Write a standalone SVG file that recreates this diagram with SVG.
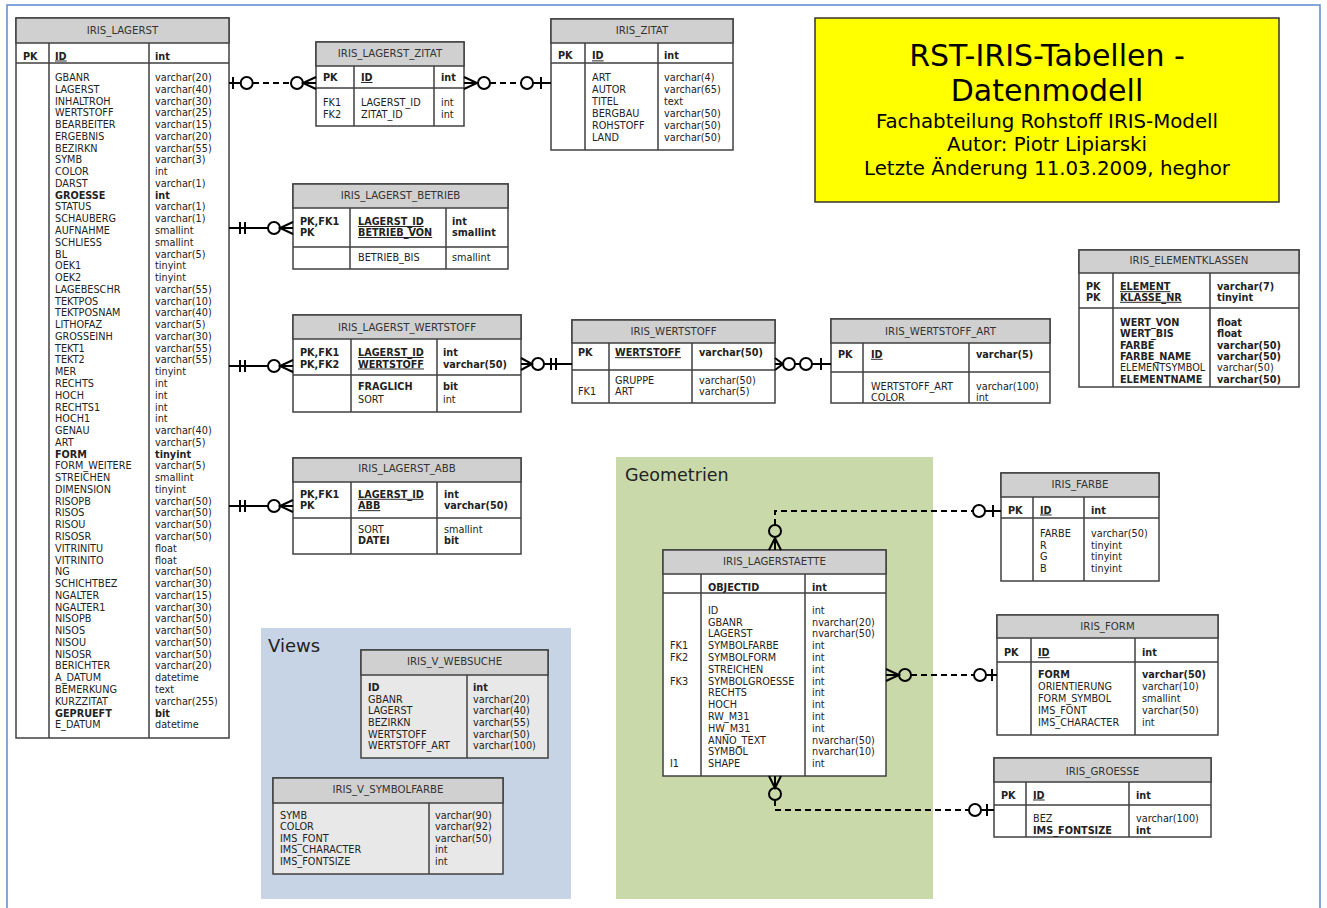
<svg xmlns="http://www.w3.org/2000/svg" width="1327" height="908" viewBox="0 0 1327 908">
<style>
text{font-family:"DejaVu Sans",Verdana,sans-serif;font-size:9.7px;fill:#222}
.tb{fill:#fff;stroke:#404040;stroke-width:1.5}
.vb{fill:#e8e8e8;stroke:#404040;stroke-width:1.5}
.hd{fill:#d0d0d0;stroke:#404040;stroke-width:1.5}
.ln{stroke:#404040;stroke-width:1.5;fill:none}
.ti{font-size:10.2px;text-anchor:middle;fill:#333}
.b{font-weight:bold}
.u{text-decoration:underline}
.cs{stroke:#000;stroke-width:2;fill:none}
.cd{stroke:#000;stroke-width:2;fill:none;stroke-dasharray:6,4}
.cc{stroke:#000;stroke-width:2;fill:none}
.big{font-size:30px;text-anchor:middle;fill:#000}
.mid{font-size:19.8px;text-anchor:middle;fill:#000}
</style>
<rect width="1327" height="908" fill="#fff"/>
<path d="M7,908 V5 H1320 V908" fill="none" stroke="#5b8bd0" stroke-width="1.5"/>

<g id="title">
<rect x="815" y="18" width="464" height="184" fill="#ffff00" stroke="#333" stroke-width="1.5"/>
<text class="big" x="1047" y="66">RST-IRIS-Tabellen -</text>
<text class="big" x="1047" y="101">Datenmodell</text>
<text class="mid" x="1047" y="128">Fachabteilung Rohstoff IRIS-Modell</text>
<text class="mid" x="1047" y="151">Autor: Piotr Lipiarski</text>
<text class="mid" x="1047" y="175">Letzte Änderung 11.03.2009, heghor</text>
</g>

<g id="views-area">
<rect x="261" y="628" width="310" height="271" fill="#c6d4e5"/>
<text x="268" y="652" style="font-size:18px;fill:#222">Views</text>
</g>
<g id="geometrien-area">
<rect x="616" y="457" width="317" height="442" fill="#c9d9a9"/>
<text x="625" y="481" style="font-size:17.5px;fill:#222">Geometrien</text>
</g>

<g id="IRIS_LAGERST">
<rect class="tb" x="16" y="18" width="213" height="720"/>
<rect class="hd" x="16" y="18" width="213" height="25"/>
<path class="ln" d="M16,63 H229 M49,43 V738 M149,43 V738"/>
<text class="ti" x="122.5" y="34">IRIS_LAGERST</text>
<text class="b" x="23" y="59.5">PK</text>
<text class="b u" x="55" y="59.5">ID</text>
<text class="b" x="155" y="59.5">int</text>
<text x="55" y="81"><tspan x="55">GBANR</tspan><tspan x="55" dy="11.77">LAGERST</tspan><tspan x="55" dy="11.77">INHALTROH</tspan><tspan x="55" dy="11.77">WERTSTOFF</tspan><tspan x="55" dy="11.77">BEARBEITER</tspan><tspan x="55" dy="11.77">ERGEBNIS</tspan><tspan x="55" dy="11.77">BEZIRKN</tspan><tspan x="55" dy="11.77">SYMB</tspan><tspan x="55" dy="11.77">COLOR</tspan><tspan x="55" dy="11.77">DARST</tspan><tspan x="55" dy="11.77" class="b">GROESSE</tspan><tspan x="55" dy="11.77">STATUS</tspan><tspan x="55" dy="11.77">SCHAUBERG</tspan><tspan x="55" dy="11.77">AUFNAHME</tspan><tspan x="55" dy="11.77">SCHLIESS</tspan><tspan x="55" dy="11.77">BL</tspan><tspan x="55" dy="11.77">OEK1</tspan><tspan x="55" dy="11.77">OEK2</tspan><tspan x="55" dy="11.77">LAGEBESCHR</tspan><tspan x="55" dy="11.77">TEKTPOS</tspan><tspan x="55" dy="11.77">TEKTPOSNAM</tspan><tspan x="55" dy="11.77">LITHOFAZ</tspan><tspan x="55" dy="11.77">GROSSEINH</tspan><tspan x="55" dy="11.77">TEKT1</tspan><tspan x="55" dy="11.77">TEKT2</tspan><tspan x="55" dy="11.77">MER</tspan><tspan x="55" dy="11.77">RECHTS</tspan><tspan x="55" dy="11.77">HOCH</tspan><tspan x="55" dy="11.77">RECHTS1</tspan><tspan x="55" dy="11.77">HOCH1</tspan><tspan x="55" dy="11.77">GENAU</tspan><tspan x="55" dy="11.77">ART</tspan><tspan x="55" dy="11.77" class="b">FORM</tspan><tspan x="55" dy="11.77">FORM_WEITERE</tspan><tspan x="55" dy="11.77">STREICHEN</tspan><tspan x="55" dy="11.77">DIMENSION</tspan><tspan x="55" dy="11.77">RISOPB</tspan><tspan x="55" dy="11.77">RISOS</tspan><tspan x="55" dy="11.77">RISOU</tspan><tspan x="55" dy="11.77">RISOSR</tspan><tspan x="55" dy="11.77">VITRINITU</tspan><tspan x="55" dy="11.77">VITRINITO</tspan><tspan x="55" dy="11.77">NG</tspan><tspan x="55" dy="11.77">SCHICHTBEZ</tspan><tspan x="55" dy="11.77">NGALTER</tspan><tspan x="55" dy="11.77">NGALTER1</tspan><tspan x="55" dy="11.77">NISOPB</tspan><tspan x="55" dy="11.77">NISOS</tspan><tspan x="55" dy="11.77">NISOU</tspan><tspan x="55" dy="11.77">NISOSR</tspan><tspan x="55" dy="11.77">BERICHTER</tspan><tspan x="55" dy="11.77">A_DATUM</tspan><tspan x="55" dy="11.77">BEMERKUNG</tspan><tspan x="55" dy="11.77">KURZZITAT</tspan><tspan x="55" dy="11.77" class="b">GEPRUEFT</tspan><tspan x="55" dy="11.77">E_DATUM</tspan></text>
<text x="155" y="81"><tspan x="155">varchar(20)</tspan><tspan x="155" dy="11.77">varchar(40)</tspan><tspan x="155" dy="11.77">varchar(30)</tspan><tspan x="155" dy="11.77">varchar(25)</tspan><tspan x="155" dy="11.77">varchar(15)</tspan><tspan x="155" dy="11.77">varchar(20)</tspan><tspan x="155" dy="11.77">varchar(55)</tspan><tspan x="155" dy="11.77">varchar(3)</tspan><tspan x="155" dy="11.77">int</tspan><tspan x="155" dy="11.77">varchar(1)</tspan><tspan x="155" dy="11.77" class="b">int</tspan><tspan x="155" dy="11.77">varchar(1)</tspan><tspan x="155" dy="11.77">varchar(1)</tspan><tspan x="155" dy="11.77">smallint</tspan><tspan x="155" dy="11.77">smallint</tspan><tspan x="155" dy="11.77">varchar(5)</tspan><tspan x="155" dy="11.77">tinyint</tspan><tspan x="155" dy="11.77">tinyint</tspan><tspan x="155" dy="11.77">varchar(55)</tspan><tspan x="155" dy="11.77">varchar(10)</tspan><tspan x="155" dy="11.77">varchar(40)</tspan><tspan x="155" dy="11.77">varchar(5)</tspan><tspan x="155" dy="11.77">varchar(30)</tspan><tspan x="155" dy="11.77">varchar(55)</tspan><tspan x="155" dy="11.77">varchar(55)</tspan><tspan x="155" dy="11.77">tinyint</tspan><tspan x="155" dy="11.77">int</tspan><tspan x="155" dy="11.77">int</tspan><tspan x="155" dy="11.77">int</tspan><tspan x="155" dy="11.77">int</tspan><tspan x="155" dy="11.77">varchar(40)</tspan><tspan x="155" dy="11.77">varchar(5)</tspan><tspan x="155" dy="11.77" class="b">tinyint</tspan><tspan x="155" dy="11.77">varchar(5)</tspan><tspan x="155" dy="11.77">smallint</tspan><tspan x="155" dy="11.77">tinyint</tspan><tspan x="155" dy="11.77">varchar(50)</tspan><tspan x="155" dy="11.77">varchar(50)</tspan><tspan x="155" dy="11.77">varchar(50)</tspan><tspan x="155" dy="11.77">varchar(50)</tspan><tspan x="155" dy="11.77">float</tspan><tspan x="155" dy="11.77">float</tspan><tspan x="155" dy="11.77">varchar(50)</tspan><tspan x="155" dy="11.77">varchar(30)</tspan><tspan x="155" dy="11.77">varchar(15)</tspan><tspan x="155" dy="11.77">varchar(30)</tspan><tspan x="155" dy="11.77">varchar(50)</tspan><tspan x="155" dy="11.77">varchar(50)</tspan><tspan x="155" dy="11.77">varchar(50)</tspan><tspan x="155" dy="11.77">varchar(50)</tspan><tspan x="155" dy="11.77">varchar(20)</tspan><tspan x="155" dy="11.77">datetime</tspan><tspan x="155" dy="11.77">text</tspan><tspan x="155" dy="11.77">varchar(255)</tspan><tspan x="155" dy="11.77" class="b">bit</tspan><tspan x="155" dy="11.77">datetime</tspan></text>
</g>

<g id="IRIS_LAGERST_ZITAT">
<rect class="tb" x="316" y="42" width="148" height="84"/>
<rect class="hd" x="316" y="42" width="148" height="24"/>
<path class="ln" d="M316,88 H464 M354,66 V126 M434,66 V126"/>
<text class="ti" x="390" y="57">IRIS_LAGERST_ZITAT</text>
<text class="b" x="323" y="81">PK</text>
<text class="b u" x="361" y="81">ID</text>
<text class="b" x="441" y="81">int</text>
<text x="323" y="106">FK1</text><text x="361" y="106">LAGERST_ID</text><text x="441" y="106">int</text>
<text x="323" y="117.7">FK2</text><text x="361" y="117.7">ZITAT_ID</text><text x="441" y="117.7">int</text>
</g>

<g id="IRIS_ZITAT">
<rect class="tb" x="551" y="19" width="182" height="131"/>
<rect class="hd" x="551" y="19" width="182" height="24"/>
<path class="ln" d="M551,63 H733 M585,43 V150 M658,43 V150"/>
<text class="ti" x="642" y="33.7">IRIS_ZITAT</text>
<text class="b" x="558" y="59.4">PK</text>
<text class="b u" x="592" y="59.4">ID</text>
<text class="b" x="664" y="59.4">int</text>
<text x="592" y="81.4"><tspan x="592">ART</tspan><tspan x="592" dy="11.9">AUTOR</tspan><tspan x="592" dy="11.9">TITEL</tspan><tspan x="592" dy="11.9">BERGBAU</tspan><tspan x="592" dy="11.9">ROHSTOFF</tspan><tspan x="592" dy="11.9">LAND</tspan></text>
<text x="664" y="81.4"><tspan x="664">varchar(4)</tspan><tspan x="664" dy="11.9">varchar(65)</tspan><tspan x="664" dy="11.9">text</tspan><tspan x="664" dy="11.9">varchar(50)</tspan><tspan x="664" dy="11.9">varchar(50)</tspan><tspan x="664" dy="11.9">varchar(50)</tspan></text>
</g>

<g id="IRIS_LAGERST_BETRIEB">
<rect class="tb" x="293" y="184" width="215" height="85"/>
<rect class="hd" x="293" y="184" width="215" height="24"/>
<path class="ln" d="M293,247 H508 M350,208 V269 M446,208 V269"/>
<text class="ti" x="400.5" y="198.7">IRIS_LAGERST_BETRIEB</text>
<text class="b" x="300" y="225">PK,FK1</text><text class="b u" x="358" y="225">LAGERST_ID</text><text class="b" x="452" y="225">int</text>
<text class="b" x="300" y="236">PK</text><text class="b u" x="358" y="236">BETRIEB_VON</text><text class="b" x="452" y="236">smallint</text>
<text x="358" y="261">BETRIEB_BIS</text><text x="452" y="261">smallint</text>
</g>

<g id="IRIS_LAGERST_WERTSTOFF">
<rect class="tb" x="293" y="315" width="228" height="97"/>
<rect class="hd" x="293" y="315" width="228" height="24"/>
<path class="ln" d="M293,375 H521 M351,339 V412 M437,339 V412"/>
<text class="ti" x="407" y="331">IRIS_LAGERST_WERTSTOFF</text>
<text class="b" x="300" y="356">PK,FK1</text><text class="b u" x="358" y="356">LAGERST_ID</text><text class="b" x="443" y="356">int</text>
<text class="b" x="300" y="367.5">PK,FK2</text><text class="b u" x="358" y="367.5">WERTSTOFF</text><text class="b" x="443" y="367.5">varchar(50)</text>
<text class="b" x="358" y="390.2">FRAGLICH</text><text class="b" x="443" y="390.2">bit</text>
<text x="358" y="402.8">SORT</text><text x="443" y="402.8">int</text>
</g>

<g id="IRIS_WERTSTOFF">
<rect class="tb" x="572" y="320" width="203" height="83"/>
<rect class="hd" x="572" y="320" width="203" height="23"/>
<path class="ln" d="M572,370 H775 M609,343 V403 M692,343 V403"/>
<text class="ti" x="673.5" y="335.4">IRIS_WERTSTOFF</text>
<text class="b" x="578" y="356.2">PK</text><text class="b u" x="615" y="356.2">WERTSTOFF</text><text class="b" x="699" y="356.2">varchar(50)</text>
<text x="615" y="384.2">GRUPPE</text><text x="699" y="384.2">varchar(50)</text>
<text x="578" y="395.2">FK1</text><text x="615" y="395.2">ART</text><text x="699" y="395.2">varchar(5)</text>
</g>

<g id="IRIS_WERTSTOFF_ART">
<rect class="tb" x="831" y="319" width="219" height="84"/>
<rect class="hd" x="831" y="319" width="219" height="24"/>
<path class="ln" d="M831,372 H1050 M863,343 V403 M969,343 V403"/>
<text class="ti" x="940.5" y="335.4">IRIS_WERTSTOFF_ART</text>
<text class="b" x="838" y="357.8">PK</text><text class="b u" x="871" y="357.8">ID</text><text class="b" x="976" y="357.8">varchar(5)</text>
<text x="871" y="389.5">WERTSTOFF_ART</text><text x="976" y="389.5">varchar(100)</text>
<text x="871" y="400.8">COLOR</text><text x="976" y="400.8">int</text>
</g>

<g id="IRIS_ELEMENTKLASSEN">
<rect class="tb" x="1079" y="250" width="220" height="137"/>
<rect class="hd" x="1079" y="250" width="220" height="23"/>
<path class="ln" d="M1079,308 H1299 M1113,273 V387 M1210,273 V387"/>
<text class="ti" x="1189" y="263.7">IRIS_ELEMENTKLASSEN</text>
<text class="b" x="1086" y="290.2">PK</text><text class="b u" x="1120" y="290.2">ELEMENT</text><text class="b" x="1217" y="290.2">varchar(7)</text>
<text class="b" x="1086" y="300.8">PK</text><text class="b u" x="1120" y="300.8">KLASSE_NR</text><text class="b" x="1217" y="300.8">tinyint</text>
<text x="1120" y="325.8"><tspan x="1120" class="b">WERT_VON</tspan><tspan x="1120" dy="11.4" class="b">WERT_BIS</tspan><tspan x="1120" dy="11.4" class="b">FARBE</tspan><tspan x="1120" dy="11.4" class="b">FARBE_NAME</tspan><tspan x="1120" dy="11.4">ELEMENTSYMBOL</tspan><tspan x="1120" dy="11.4" class="b">ELEMENTNAME</tspan></text>
<text x="1217" y="325.8"><tspan x="1217" class="b">float</tspan><tspan x="1217" dy="11.4" class="b">float</tspan><tspan x="1217" dy="11.4" class="b">varchar(50)</tspan><tspan x="1217" dy="11.4" class="b">varchar(50)</tspan><tspan x="1217" dy="11.4">varchar(50)</tspan><tspan x="1217" dy="11.4" class="b">varchar(50)</tspan></text>
</g>

<g id="IRIS_LAGERST_ABB">
<rect class="tb" x="293" y="458" width="228" height="96"/>
<rect class="hd" x="293" y="458" width="228" height="24"/>
<path class="ln" d="M293,518 H521 M351,482 V554 M437,482 V554"/>
<text class="ti" x="407" y="472">IRIS_LAGERST_ABB</text>
<text class="b" x="300" y="497.8">PK,FK1</text><text class="b u" x="358" y="497.8">LAGERST_ID</text><text class="b" x="444" y="497.8">int</text>
<text class="b" x="300" y="509.2">PK</text><text class="b u" x="358" y="509.2">ABB</text><text class="b" x="444" y="509.2">varchar(50)</text>
<text x="358" y="532.5">SORT</text><text x="444" y="532.5">smallint</text>
<text class="b" x="358" y="544.2">DATEI</text><text class="b" x="444" y="544.2">bit</text>
</g>

<g id="IRIS_V_WEBSUCHE">
<rect class="vb" x="361" y="650" width="187" height="108"/>
<rect class="hd" x="361" y="650" width="187" height="25"/>
<path class="ln" d="M467,675 V758"/>
<text class="ti" x="454.5" y="665.4">IRIS_V_WEBSUCHE</text>
<text x="368" y="690.8"><tspan x="368" class="b">ID</tspan><tspan x="368" dy="11.7">GBANR</tspan><tspan x="368" dy="11.7">LAGERST</tspan><tspan x="368" dy="11.7">BEZIRKN</tspan><tspan x="368" dy="11.7">WERTSTOFF</tspan><tspan x="368" dy="11.7">WERTSTOFF_ART</tspan></text>
<text x="473" y="690.8"><tspan x="473" class="b">int</tspan><tspan x="473" dy="11.7">varchar(20)</tspan><tspan x="473" dy="11.7">varchar(40)</tspan><tspan x="473" dy="11.7">varchar(55)</tspan><tspan x="473" dy="11.7">varchar(50)</tspan><tspan x="473" dy="11.7">varchar(100)</tspan></text>
</g>

<g id="IRIS_V_SYMBOLFARBE">
<rect class="vb" x="273" y="778" width="230" height="96"/>
<rect class="hd" x="273" y="778" width="230" height="25"/>
<path class="ln" d="M429,803 V874"/>
<text class="ti" x="388" y="793">IRIS_V_SYMBOLFARBE</text>
<text x="280" y="818.5"><tspan x="280">SYMB</tspan><tspan x="280" dy="11.6">COLOR</tspan><tspan x="280" dy="11.6">IMS_FONT</tspan><tspan x="280" dy="11.6">IMS_CHARACTER</tspan><tspan x="280" dy="11.6">IMS_FONTSIZE</tspan></text>
<text x="435" y="818.5"><tspan x="435">varchar(90)</tspan><tspan x="435" dy="11.6">varchar(92)</tspan><tspan x="435" dy="11.6">varchar(50)</tspan><tspan x="435" dy="11.6">int</tspan><tspan x="435" dy="11.6">int</tspan></text>
</g>

<g id="IRIS_LAGERSTAETTE">
<rect class="tb" x="663" y="550" width="223" height="226"/>
<rect class="hd" x="663" y="550" width="223" height="24"/>
<path class="ln" d="M663,593 H886 M701,574 V776 M805,574 V776"/>
<text class="ti" x="774.5" y="565.4">IRIS_LAGERSTAETTE</text>
<text class="b" x="708" y="590.5">OBJECTID</text><text class="b" x="812" y="590.5">int</text>
<text x="708" y="613.8"><tspan x="708">ID</tspan><tspan x="708" dy="11.8">GBANR</tspan><tspan x="708" dy="11.8">LAGERST</tspan><tspan x="708" dy="11.8">SYMBOLFARBE</tspan><tspan x="708" dy="11.8">SYMBOLFORM</tspan><tspan x="708" dy="11.8">STREICHEN</tspan><tspan x="708" dy="11.8">SYMBOLGROESSE</tspan><tspan x="708" dy="11.8">RECHTS</tspan><tspan x="708" dy="11.8">HOCH</tspan><tspan x="708" dy="11.8">RW_M31</tspan><tspan x="708" dy="11.8">HW_M31</tspan><tspan x="708" dy="11.8">ANNO_TEXT</tspan><tspan x="708" dy="11.8">SYMBOL</tspan><tspan x="708" dy="11.8">SHAPE</tspan></text>
<text x="812" y="613.8"><tspan x="812">int</tspan><tspan x="812" dy="11.8">nvarchar(20)</tspan><tspan x="812" dy="11.8">nvarchar(50)</tspan><tspan x="812" dy="11.8">int</tspan><tspan x="812" dy="11.8">int</tspan><tspan x="812" dy="11.8">int</tspan><tspan x="812" dy="11.8">int</tspan><tspan x="812" dy="11.8">int</tspan><tspan x="812" dy="11.8">int</tspan><tspan x="812" dy="11.8">int</tspan><tspan x="812" dy="11.8">int</tspan><tspan x="812" dy="11.8">nvarchar(50)</tspan><tspan x="812" dy="11.8">nvarchar(10)</tspan><tspan x="812" dy="11.8">int</tspan></text>
<text x="670" y="649.2">FK1</text>
<text x="670" y="661">FK2</text>
<text x="670" y="684.6">FK3</text>
<text x="670" y="767.2">I1</text>
</g>

<g id="IRIS_FARBE">
<rect class="tb" x="1001" y="473" width="158" height="108"/>
<rect class="hd" x="1001" y="473" width="158" height="24"/>
<path class="ln" d="M1001,518 H1159 M1033,497 V581 M1084,497 V581"/>
<text class="ti" x="1080" y="487.7">IRIS_FARBE</text>
<text class="b" x="1008" y="513.5">PK</text><text class="b u" x="1040" y="513.5">ID</text><text class="b" x="1091" y="513.5">int</text>
<text x="1040" y="537"><tspan x="1040">FARBE</tspan><tspan x="1040" dy="11.5">R</tspan><tspan x="1040" dy="11.5">G</tspan><tspan x="1040" dy="11.5">B</tspan></text>
<text x="1091" y="537"><tspan x="1091">varchar(50)</tspan><tspan x="1091" dy="11.5">tinyint</tspan><tspan x="1091" dy="11.5">tinyint</tspan><tspan x="1091" dy="11.5">tinyint</tspan></text>
</g>

<g id="IRIS_FORM">
<rect class="tb" x="997" y="615" width="221" height="120"/>
<rect class="hd" x="997" y="615" width="221" height="23"/>
<path class="ln" d="M997,662 H1218 M1031,638 V735 M1135,638 V735"/>
<text class="ti" x="1107.5" y="630.4">IRIS_FORM</text>
<text class="b" x="1004" y="656.2">PK</text><text class="b u" x="1038" y="656.2">ID</text><text class="b" x="1142" y="656.2">int</text>
<text x="1038" y="677.5"><tspan x="1038" class="b">FORM</tspan><tspan x="1038" dy="12">ORIENTIERUNG</tspan><tspan x="1038" dy="12">FORM_SYMBOL</tspan><tspan x="1038" dy="12">IMS_FONT</tspan><tspan x="1038" dy="12">IMS_CHARACTER</tspan></text>
<text x="1142" y="677.5"><tspan x="1142" class="b">varchar(50)</tspan><tspan x="1142" dy="12">varchar(10)</tspan><tspan x="1142" dy="12">smallint</tspan><tspan x="1142" dy="12">varchar(50)</tspan><tspan x="1142" dy="12">int</tspan></text>
</g>

<g id="IRIS_GROESSE">
<rect class="tb" x="994" y="758" width="217" height="79"/>
<rect class="hd" x="994" y="758" width="217" height="24"/>
<path class="ln" d="M994,805 H1211 M1026,782 V837 M1129,782 V837"/>
<text class="ti" x="1102.5" y="775.4">IRIS_GROESSE</text>
<text class="b" x="1001" y="798.5">PK</text><text class="b u" x="1033" y="798.5">ID</text><text class="b" x="1136" y="798.5">int</text>
<text x="1033" y="821.8">BEZ</text><text x="1136" y="821.8">varchar(100)</text>
<text class="b" x="1033" y="834.2">IMS_FONTSIZE</text><text class="b" x="1136" y="834.2">int</text>
</g>

<g id="connectors">
<path class="cs" d="M229,83 H240.7 M233,77 V89 M316,77 L303,83 L316,89 M303,83 H316"/>
<path class="cd" d="M253,83 H291"/>
<circle class="cc" cx="246.7" cy="83" r="6"/>
<circle class="cc" cx="297" cy="83" r="6"/>
<path class="cs" d="M464,77 L477,83 L464,89 M464,83 H477 M533,83 H551 M541,77 V89"/>
<path class="cd" d="M490,83 H521"/>
<circle class="cc" cx="484" cy="83" r="6"/>
<circle class="cc" cx="527" cy="83" r="6"/>
<path class="cs" d="M229,228 H268 M240,222 V234 M245,222 V234 M293,222 L280,228 L293,234 M280,228 H293"/>
<circle class="cc" cx="274" cy="228" r="6"/>
<path class="cs" d="M229,366 H268 M240,360 V372 M245,360 V372 M293,360 L280,366 L293,372 M280,366 H293"/>
<circle class="cc" cx="274" cy="366" r="6"/>
<path class="cs" d="M521,358 L532,364 L521,370 M521,364 H532 M544,364 H572 M551,358 V370 M556,358 V370"/>
<circle class="cc" cx="538" cy="364" r="6"/>
<path class="cs" d="M775,358 L783,364 L775,370 M775,364 H783 M795,364 H800 M812,364 H831 M821,358 V370"/>
<circle class="cc" cx="789" cy="364" r="6"/>
<circle class="cc" cx="806" cy="364" r="6"/>
<path class="cs" d="M229,506 H268 M240,500 V512 M245,500 V512 M293,500 L280,506 L293,512 M280,506 H293"/>
<circle class="cc" cx="274" cy="506" r="6"/>
<path class="cs" d="M769,550 L775,538 L781,550 M775,550 V538 M985,511 H1001 M993,505 V517"/>
<path class="cd" d="M775,525 V511 H973"/>
<circle class="cc" cx="775" cy="531" r="6"/>
<circle class="cc" cx="979" cy="511" r="6"/>
<path class="cs" d="M886,669 L899,675 L886,681 M886,675 H899 M986,675 H997 M992,669 V681"/>
<path class="cd" d="M911,675 H974"/>
<circle class="cc" cx="905" cy="675" r="6"/>
<circle class="cc" cx="980" cy="675" r="6"/>
<path class="cs" d="M769,776 L775,788 L781,776 M775,776 V788 M981,810 H994 M987,804 V816"/>
<path class="cd" d="M775,800 V810 H969"/>
<circle class="cc" cx="775" cy="794" r="6"/>
<circle class="cc" cx="975" cy="810" r="6"/>
</g>
</svg>
